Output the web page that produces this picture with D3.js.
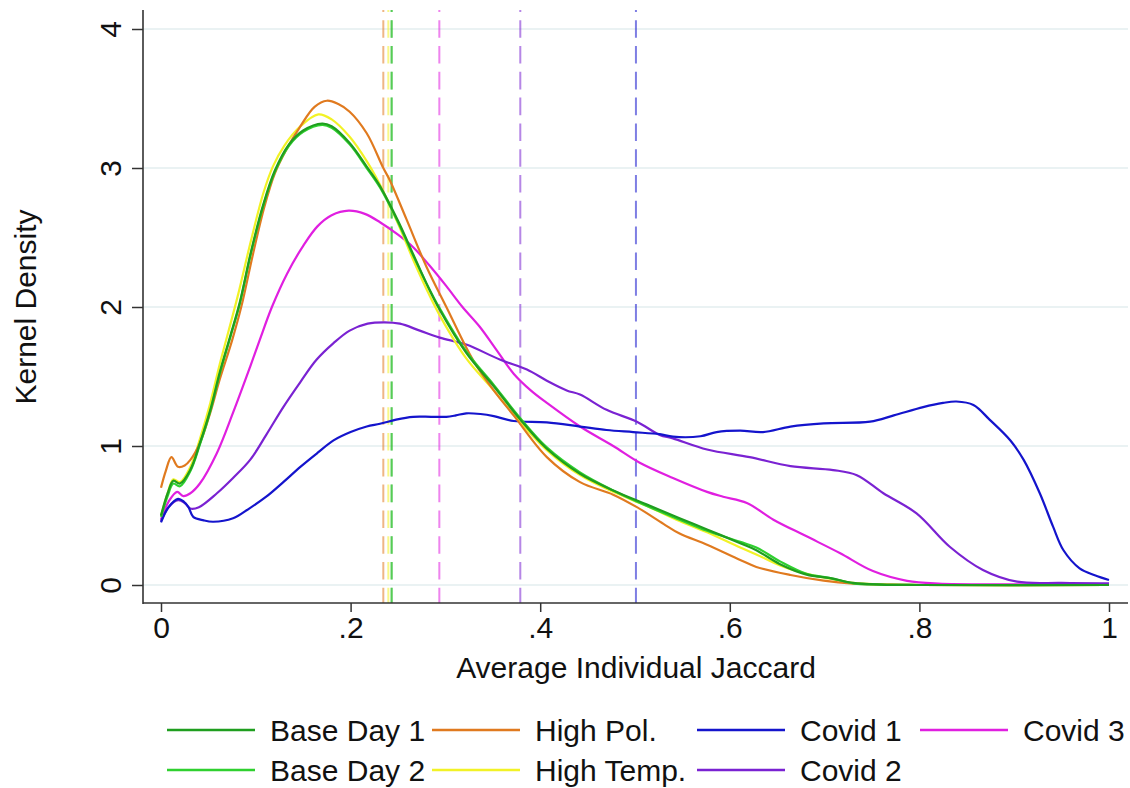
<!DOCTYPE html>
<html>
<head>
<meta charset="utf-8">
<script src="https://cdn.jsdelivr.net/npm/d3@7"></script>
<style>
  body { margin: 0; background: #fff; }
  svg text { font-family: "Liberation Sans", Arial, sans-serif; fill: #111; }
</style>
</head>
<body>
<svg id="chart" width="1130" height="788"></svg>
<script>
// kernel density curves: [jaccard, density]
const baseDay1 = [[0,0.50],[0.007,0.66],[0.013,0.75],[0.020,0.73],[0.031,0.83],[0.041,1.02],[0.052,1.26],[0.062,1.53],[0.073,1.79],[0.083,2.03],[0.095,2.40],[0.108,2.74],[0.120,2.98],[0.135,3.17],[0.150,3.27],[0.170,3.32],[0.180,3.30],[0.199,3.18],[0.217,3.01],[0.231,2.87],[0.250,2.62],[0.266,2.38],[0.280,2.17],[0.294,1.98],[0.322,1.67],[0.351,1.43],[0.379,1.19],[0.407,0.98],[0.442,0.80],[0.477,0.68],[0.512,0.58],[0.547,0.48],[0.576,0.40],[0.611,0.30],[0.628,0.25],[0.653,0.15],[0.681,0.075],[0.706,0.05],[0.730,0.015],[0.760,0.003],[0.800,0],[1,0]];
const baseDay2 = [[0,0.49],[0.007,0.64],[0.013,0.73],[0.020,0.71],[0.031,0.82],[0.041,1.01],[0.052,1.25],[0.062,1.52],[0.073,1.78],[0.083,2.02],[0.095,2.39],[0.108,2.73],[0.120,2.97],[0.135,3.16],[0.150,3.26],[0.170,3.31],[0.180,3.29],[0.199,3.17],[0.217,3.0],[0.231,2.86],[0.250,2.61],[0.266,2.37],[0.280,2.17],[0.294,1.99],[0.322,1.68],[0.351,1.44],[0.379,1.20],[0.407,0.99],[0.442,0.81],[0.477,0.68],[0.512,0.57],[0.547,0.47],[0.576,0.39],[0.611,0.31],[0.628,0.27],[0.653,0.17],[0.681,0.08],[0.706,0.05],[0.730,0.012],[0.760,0.003],[0.800,0],[1,0]];
const highPol = [[0,0.70],[0.005,0.82],[0.011,0.92],[0.018,0.85],[0.025,0.86],[0.031,0.90],[0.041,1.02],[0.052,1.24],[0.062,1.48],[0.075,1.76],[0.085,2.01],[0.097,2.38],[0.109,2.72],[0.120,2.96],[0.132,3.13],[0.147,3.30],[0.162,3.44],[0.175,3.484],[0.187,3.46],[0.199,3.405],[0.217,3.25],[0.2345,3.0],[0.2415,2.91],[0.259,2.63],[0.280,2.29],[0.301,2.0],[0.329,1.62],[0.351,1.40],[0.372,1.22],[0.407,0.92],[0.442,0.74],[0.477,0.65],[0.502,0.56],[0.530,0.44],[0.547,0.37],[0.576,0.29],[0.611,0.18],[0.628,0.13],[0.664,0.072],[0.699,0.031],[0.730,0.01],[0.770,0.002],[0.800,0],[1,0]];
const highTemp = [[0,0.50],[0.007,0.66],[0.013,0.76],[0.020,0.74],[0.031,0.85],[0.041,1.05],[0.052,1.31],[0.062,1.59],[0.071,1.82],[0.081,2.08],[0.095,2.48],[0.108,2.82],[0.118,3.01],[0.130,3.16],[0.147,3.30],[0.166,3.386],[0.180,3.35],[0.199,3.225],[0.217,3.05],[0.231,2.88],[0.250,2.60],[0.266,2.34],[0.280,2.13],[0.294,1.94],[0.322,1.63],[0.351,1.40],[0.379,1.17],[0.407,0.97],[0.442,0.79],[0.477,0.67],[0.512,0.57],[0.547,0.46],[0.576,0.38],[0.611,0.27],[0.628,0.22],[0.653,0.14],[0.681,0.08],[0.706,0.045],[0.730,0.015],[0.760,0.004],[0.800,0],[1,0]];
const covid1 = [[0,0.45],[0.008,0.56],[0.018,0.62],[0.024,0.60],[0.029,0.56],[0.034,0.49],[0.045,0.465],[0.055,0.455],[0.076,0.48],[0.093,0.55],[0.111,0.635],[0.129,0.74],[0.147,0.85],[0.165,0.95],[0.182,1.04],[0.200,1.10],[0.217,1.14],[0.231,1.16],[0.248,1.19],[0.266,1.21],[0.285,1.21],[0.301,1.21],[0.311,1.22],[0.322,1.235],[0.337,1.23],[0.351,1.215],[0.372,1.18],[0.407,1.17],[0.442,1.14],[0.470,1.115],[0.498,1.10],[0.526,1.085],[0.540,1.067],[0.569,1.07],[0.586,1.10],[0.611,1.11],[0.635,1.10],[0.664,1.14],[0.699,1.163],[0.748,1.175],[0.773,1.22],[0.804,1.28],[0.825,1.31],[0.839,1.32],[0.857,1.295],[0.874,1.19],[0.896,1.04],[0.910,0.90],[0.927,0.66],[0.941,0.42],[0.952,0.25],[0.969,0.12],[0.985,0.07],[1,0.036]];
const covid2 = [[0,0.46],[0.008,0.56],[0.018,0.61],[0.025,0.59],[0.031,0.55],[0.040,0.56],[0.059,0.66],[0.076,0.77],[0.094,0.90],[0.111,1.08],[0.129,1.28],[0.147,1.46],[0.164,1.62],[0.182,1.74],[0.199,1.83],[0.218,1.88],[0.236,1.89],[0.252,1.88],[0.273,1.83],[0.294,1.78],[0.322,1.73],[0.358,1.62],[0.386,1.55],[0.407,1.47],[0.428,1.40],[0.442,1.37],[0.470,1.26],[0.502,1.175],[0.526,1.08],[0.540,1.055],[0.576,0.975],[0.621,0.92],[0.664,0.855],[0.709,0.827],[0.734,0.79],[0.762,0.66],[0.797,0.515],[0.832,0.275],[0.867,0.108],[0.903,0.024],[0.950,0.015],[1,0.012]];
const covid3 = [[0,0.47],[0.008,0.60],[0.017,0.67],[0.0235,0.64],[0.031,0.66],[0.041,0.73],[0.059,0.95],[0.076,1.24],[0.094,1.57],[0.104,1.76],[0.117,2.0],[0.133,2.24],[0.150,2.44],[0.165,2.58],[0.180,2.66],[0.198,2.693],[0.215,2.67],[0.231,2.61],[0.250,2.52],[0.266,2.43],[0.283,2.30],[0.301,2.15],[0.318,2.0],[0.336,1.86],[0.354,1.69],[0.372,1.52],[0.390,1.40],[0.407,1.31],[0.442,1.14],[0.477,1.0],[0.505,0.88],[0.540,0.77],[0.576,0.67],[0.593,0.635],[0.618,0.59],[0.646,0.47],[0.681,0.35],[0.716,0.23],[0.751,0.10],[0.787,0.03],[0.820,0.01],[0.900,0.005],[1,0.005]];

// group means (dashed reference lines)
const seriesNames = ["Base Day 1", "Base Day 2", "High Pol.", "High Temp.", "Covid 1", "Covid 2", "Covid 3"];
const seriesMeans = [0.2433, 0.2433, 0.2345, 0.2398, 0.501, 0.379, 0.2936];
const seriesColors = ["#1f9e1f", "#2fd02f", "#e07a1f", "#f2f226", "#1414cc", "#7a22d2", "#e01fe0"];
const seriesData = [baseDay1, baseDay2, highPol, highTemp, covid1, covid2, covid3];

const xTicks = [0, 0.2, 0.4, 0.6, 0.8, 1];
const yTicks = [0, 1, 2, 3, 4];

const svg = d3.select("#chart");
const fontSize = 30;

const x = d3.scaleLinear().domain([0, 1]).range([161, 1109]);
const y = d3.scaleLinear().domain([0, 4]).range([585, 29]);

const frame = { left: 143, right: 1128, top: 10, bottom: 603 };

// gridlines
svg.append("g")
    .selectAll("line")
    .data(yTicks)
    .join("line")
    .attr("x1", frame.left).attr("x2", frame.right)
    .attr("y1", d => y(d)).attr("y2", d => y(d))
    .attr("stroke", "#eaf2f3")
    .attr("stroke-width", 2);

// dashed mean lines
svg.append("g")
    .selectAll("line")
    .data(seriesMeans.map((m, i) => ({ m, c: seriesColors[i] })))
    .join("line")
    .attr("x1", d => x(d.m)).attr("x2", d => x(d.m))
    .attr("y1", frame.top).attr("y2", frame.bottom)
    .attr("stroke", d => d.c)
    .attr("stroke-opacity", 0.55)
    .attr("stroke-width", 2)
    .attr("stroke-dasharray", "17.6,8.2")
    .attr("stroke-dashoffset", 15.6);

// density curves
const line = d3.line()
    .x(d => x(d[0]))
    .y(d => y(d[1]))
    .curve(d3.curveCatmullRom.alpha(0.5));

const drawOrder = [6, 5, 4, 3, 2, 1, 0];
svg.append("g")
    .selectAll("path")
    .data(drawOrder)
    .join("path")
    .attr("d", i => line(seriesData[i]))
    .attr("fill", "none")
    .attr("stroke", i => seriesColors[i])
    .attr("stroke-width", 2.2)
    .attr("stroke-linejoin", "round");

// axes
const xAxis = svg.append("g")
    .attr("transform", `translate(0,${frame.bottom})`)
    .call(d3.axisBottom(x).tickValues(xTicks).tickSize(9).tickPadding(5)
        .tickFormat(d => d === 0 ? "0" : d === 1 ? "1" : d3.format(".1f")(d).replace("0.", ".")));
xAxis.select(".domain").remove();
xAxis.selectAll(".tick line").attr("stroke", "#333").attr("stroke-width", 1.5);
xAxis.selectAll(".tick text").attr("font-size", fontSize).attr("font-family", null).attr("fill", "#111");

const yAxis = svg.append("g")
    .attr("transform", `translate(${frame.left},0)`)
    .call(d3.axisLeft(y).tickValues(yTicks).tickSize(11).tickFormat(d3.format("d")));
yAxis.select(".domain").remove();
yAxis.selectAll(".tick line").attr("stroke", "#333").attr("stroke-width", 1.5);
yAxis.selectAll(".tick text")
    .attr("font-size", fontSize).attr("font-family", null).attr("fill", "#111")
    .attr("text-anchor", "middle")
    .attr("x", null).attr("dy", null)
    .attr("transform", "translate(-22,0) rotate(-90)");

svg.append("line")
    .attr("x1", frame.left).attr("x2", frame.left)
    .attr("y1", frame.top).attr("y2", frame.bottom + 1)
    .attr("stroke", "#333").attr("stroke-width", 1.6);
svg.append("line")
    .attr("x1", frame.left).attr("x2", frame.right)
    .attr("y1", frame.bottom).attr("y2", frame.bottom)
    .attr("stroke", "#333").attr("stroke-width", 1.6);

// axis titles
svg.append("text")
    .attr("x", 636).attr("y", 678)
    .attr("text-anchor", "middle")
    .attr("font-size", fontSize)
    .text("Average Individual Jaccard");

svg.append("text")
    .attr("transform", "translate(36,307) rotate(-90)")
    .attr("text-anchor", "middle")
    .attr("font-size", fontSize)
    .text("Kernel Density");

// legend, two rows filled column by column
const legendCols = [167, 432, 697, 920];
const legendRows = [730, 770];
const legend = svg.append("g")
    .selectAll("g")
    .data(seriesNames.map((name, i) => ({ name, c: seriesColors[i], col: Math.floor(i / 2), row: i % 2 })))
    .join("g")
    .attr("transform", d => `translate(${legendCols[d.col]},${legendRows[d.row]})`);

legend.append("line")
    .attr("x1", 0).attr("x2", 88)
    .attr("stroke", d => d.c)
    .attr("stroke-width", 2.5);

legend.append("text")
    .attr("x", 103).attr("y", 10.5)
    .attr("font-size", fontSize)
    .text(d => d.name);
</script>
</body>
</html>
